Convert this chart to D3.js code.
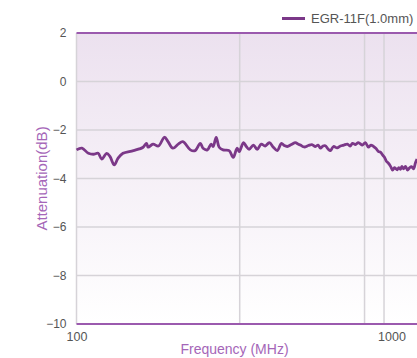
<!DOCTYPE html>
<html lang="en">
  <head>
    <meta charset="utf-8" />
    <title>Attenuation</title>
    <script src="https://d3js.org/d3.v7.min.js" charset="utf-8"></script>
    <style>
      body { margin: 0; background: #fff; }
      svg { display: block; font-family: "Liberation Sans", Arial, sans-serif; }
    </style>
  </head>
  <body>
    <div id="graph-container"></div>
    <script type="text/javascript">
      // data
      const seriesName = "EGR-11F(1.0mm)";
      const freqMHz = [
        100, 104, 109, 113, 117, 120, 124.5, 127.5, 131.5, 135, 140, 151, 162, 166, 168,
        174, 181, 189, 194, 201, 209, 216, 228, 236, 245, 250, 258, 265, 269, 275, 281,
        289, 302, 311, 320, 325, 335, 342, 349, 360, 370, 381, 392, 404, 416, 428, 441,
        450, 460, 474, 488, 497, 506, 520, 536, 550, 564, 575, 585, 596, 606, 618, 629,
        643, 660, 676, 693, 711, 725, 738, 754, 770, 793, 810, 828, 843, 859, 875, 891,
        905, 917, 930, 944, 957, 972, 986, 1000, 1007, 1020, 1032, 1044, 1055, 1067,
        1083, 1099, 1115, 1131, 1148, 1164, 1177
      ];
      const attenDB = [
        -2.82, -2.75, -2.96, -3.0, -2.96, -3.2, -2.96, -3.1, -3.44, -3.17, -2.96, -2.85, -2.71, -2.55, -2.71,
        -2.58, -2.66, -2.3, -2.48, -2.75, -2.58, -2.48, -2.82, -2.85, -2.55, -2.75, -2.82, -2.58, -2.68, -2.3, -2.71,
        -2.82, -2.85, -3.13, -2.75, -2.89, -2.52, -2.68, -2.8, -2.62, -2.8, -2.58, -2.66, -2.52, -2.71, -2.85,
        -2.55, -2.64, -2.68, -2.6, -2.52, -2.58, -2.62, -2.7, -2.64, -2.6, -2.68, -2.62, -2.75, -2.66, -2.65, -2.78,
        -2.85, -2.68, -2.74, -2.66, -2.62, -2.58, -2.66, -2.55, -2.6, -2.52, -2.62, -2.52, -2.71, -2.62, -2.68, -2.76,
        -2.89, -2.92, -3.03, -3.12, -3.3, -3.37, -3.5, -3.65, -3.55, -3.58, -3.64, -3.55, -3.62, -3.5, -3.6,
        -3.5, -3.65, -3.56, -3.51, -3.6, -3.35, -3.2
      ];
      const xDomain = [100, 1177];
      const yDomain = [-10, 2];
      const yTicks = [2, 0, -2, -4, -6, -8, -10];
      const xTicks = [100, 1000];
      const xGridLines = [326, 805, 927];

      const cW = 417,
        cH = 358,
        cLeft = 76.5,
        cRight = 417,
        cTop = 33,
        cBottom = 324,
        cPurple = "#7b3888",
        cBorder = "#9b5aae",
        cTitle = "#a566b8";

      const svg = d3
        .select("#graph-container")
        .append("svg")
        .attr("width", cW)
        .attr("height", cH);

      const xScale = d3.scaleLog().domain(xDomain).range([cLeft, cRight]);
      const yScale = d3.scaleLinear().domain(yDomain).range([cBottom, cTop]);

      // plot background
      const grad = svg
        .append("defs")
        .append("linearGradient")
        .attr("id", "bg")
        .attr("x1", 0).attr("y1", 0).attr("x2", 0).attr("y2", 1);
      grad.append("stop").attr("offset", "0%").attr("stop-color", "#ece1ef");
      grad.append("stop").attr("offset", "100%").attr("stop-color", "#ffffff");

      svg
        .append("rect")
        .attr("x", cLeft)
        .attr("y", cTop)
        .attr("width", cRight - cLeft)
        .attr("height", cBottom - cTop)
        .attr("fill", "url(#bg)");

      //grid
      svg
        .append("g")
        .selectAll("line")
        .data(yTicks.filter((d) => d !== 2 && d !== -10))
        .join("line")
        .attr("x1", cLeft)
        .attr("x2", cRight)
        .attr("y1", (d) => yScale(d))
        .attr("y2", (d) => yScale(d))
        .attr("stroke", "#d6d3d8")
        .attr("stroke-width", 1.5);

      svg
        .append("g")
        .selectAll("line")
        .data([xDomain[0]].concat(xGridLines))
        .join("line")
        .attr("x1", (d) => xScale(d))
        .attr("x2", (d) => xScale(d))
        .attr("y1", cTop)
        .attr("y2", cBottom)
        .attr("stroke", "#d6d3d8")
        .attr("stroke-width", 1.5);

      // top / bottom borders
      svg
        .append("g")
        .selectAll("line")
        .data(yDomain)
        .join("line")
        .attr("x1", cLeft)
        .attr("x2", cRight)
        .attr("y1", (d) => yScale(d))
        .attr("y2", (d) => yScale(d))
        .attr("stroke", cBorder)
        .attr("stroke-width", 2);

      //axes
      const yAxis = d3.axisLeft(yScale).tickValues(yTicks).tickSize(0).tickPadding(10);
      svg
        .append("g")
        .attr("transform", `translate(${cLeft},0)`)
        .call(yAxis)
        .call((g) => g.select(".domain").remove())
        .selectAll("text")
        .attr("font-size", 12)
        .attr("font-family", "Liberation Sans, Arial, sans-serif")
        .attr("fill", "#555");

      const xAxis = d3.axisBottom(xScale).tickValues(xTicks).tickFormat(d3.format("d")).tickSize(0).tickPadding(8);
      svg
        .append("g")
        .attr("transform", `translate(0,${cBottom})`)
        .call(xAxis)
        .call((g) => g.select(".domain").remove())
        .selectAll("text")
        .attr("font-size", 12.5)
        .attr("font-family", "Liberation Sans, Arial, sans-serif")
        .attr("fill", "#555")
        .attr("dx", (d) => (d === 1000 ? -3 : 0));

      svg
        .append("text")
        .attr("transform", "rotate(-90)")
        .attr("x", -(cTop + cBottom) / 2)
        .attr("y", 47)
        .attr("text-anchor", "middle")
        .attr("font-size", 15)
        .attr("fill", cTitle)
        .text("Attenuation(dB)");

      svg
        .append("text")
        .attr("x", 234.5)
        .attr("y", 354)
        .attr("text-anchor", "middle")
        .attr("font-size", 14)
        .attr("fill", cTitle)
        .text("Frequency (MHz)");

      //data line
      const line = d3
        .line()
        .curve(d3.curveCatmullRom)
        .x((d) => xScale(d[0]))
        .y((d) => yScale(d[1]));

      svg
        .append("path")
        .datum(d3.zip(freqMHz, attenDB))
        .attr("d", line)
        .attr("fill", "none")
        .attr("stroke", cPurple)
        .attr("stroke-width", 2.8)
        .attr("stroke-linejoin", "round");

      //legend
      const legend = svg.append("g").attr("transform", "translate(282,18.5)");
      legend
        .append("line")
        .attr("x1", 0)
        .attr("x2", 23)
        .attr("stroke", cPurple)
        .attr("stroke-width", 3);
      legend
        .append("text")
        .attr("x", 29)
        .attr("y", 4.5)
        .attr("font-size", 13)
        .attr("fill", "#555")
        .text(seriesName);
    </script>
  </body>
</html>
